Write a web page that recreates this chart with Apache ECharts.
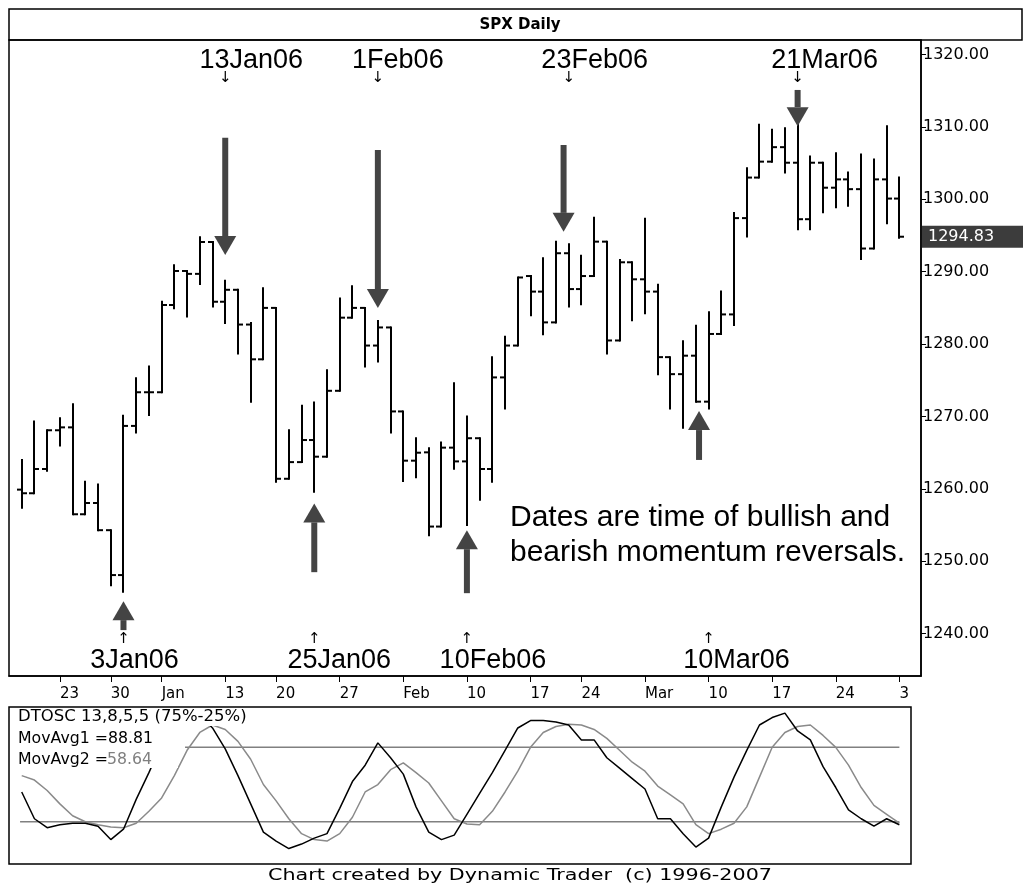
<!DOCTYPE html>
<html><head><meta charset="utf-8">
<script src="https://cdn.jsdelivr.net/npm/echarts@6/dist/echarts.min.js"></script>
<style>html,body{margin:0;padding:0;background:#fff}#c{width:1023px;height:885px}</style>
</head><body><div id="c"></div>
<script>
// ---- data ----
const dates = ['2005-12-20','2005-12-21','2005-12-22','2005-12-23','2005-12-27','2005-12-28','2005-12-29','2005-12-30',
 '2006-01-03','2006-01-04','2006-01-05','2006-01-06','2006-01-09','2006-01-10','2006-01-11','2006-01-12','2006-01-13',
 '2006-01-17','2006-01-18','2006-01-19','2006-01-20','2006-01-23','2006-01-24','2006-01-25','2006-01-26','2006-01-27',
 '2006-01-30','2006-01-31','2006-02-01','2006-02-02','2006-02-03','2006-02-06','2006-02-07','2006-02-08','2006-02-09','2006-02-10',
 '2006-02-13','2006-02-14','2006-02-15','2006-02-16','2006-02-17','2006-02-21','2006-02-22','2006-02-23','2006-02-24',
 '2006-02-27','2006-02-28','2006-03-01','2006-03-02','2006-03-03','2006-03-06','2006-03-07','2006-03-08','2006-03-09','2006-03-10',
 '2006-03-13','2006-03-14','2006-03-15','2006-03-16','2006-03-17','2006-03-20','2006-03-21','2006-03-22','2006-03-23','2006-03-24',
 '2006-03-27','2006-03-28','2006-03-29','2006-03-30','2006-03-31'];
const opens = [1259.9,1259.4,1262.75,1268.1,1268.5,1256.5,1258.05,1254.3,
 1248.1,1268.7,1273.35,1273.35,1285.4,1290.1,1289.7,1294.1,1285.85,
 1287.5,1282.7,1277.9,1285.0,1261.4,1263.7,1266.75,1264.45,1273.55,
 1283.65,1285.0,1279.8,1282.3,1270.7,1263.9,1265.05,1254.8,1265.7,1263.8,
 1267.0,1262.75,1275.4,1279.8,1289.4,1287.25,1283.0,1292.55,1287.6,
 1289.4,1294.15,1280.5,1291.3,1288.95,1287.25,1278.2,1275.85,1278.4,1272.05,
 1281.4,1284.1,1297.4,1303.0,1305.2,1307.2,1305.05,1297.25,1305.05,1301.6,
 1302.75,1301.4,1293.2,1302.75,1300.1];
const highs = [1264.0,1269.3,1268.1,1269.75,1271.7,1261.0,1260.6,1254.3,
 1270.1,1275.3,1276.9,1285.85,1290.9,1290.1,1294.75,1294.1,1288.75,
 1287.5,1282.9,1287.7,1285.0,1268.1,1271.5,1271.95,1276.4,1286.3,
 1288.0,1285.0,1283.2,1282.3,1270.7,1267.0,1265.6,1266.4,1274.6,1270.0,
 1267.0,1278.2,1281.0,1289.2,1289.4,1291.85,1294.15,1293.8,1292.2,
 1297.45,1294.15,1291.6,1291.3,1297.3,1288.2,1278.2,1280.4,1282.55,1284.4,
 1287.25,1298.1,1304.3,1310.3,1309.6,1309.8,1310.3,1305.9,1305.05,1306.35,
 1303.7,1306.2,1305.5,1310.1,1303.0];
const lows = [1257.4,1259.4,1262.5,1266.0,1256.5,1256.5,1254.3,1246.7,
 1245.8,1267.8,1270.2,1273.35,1284.95,1283.8,1288.3,1285.2,1282.9,
 1278.7,1272.05,1277.9,1261.0,1261.4,1263.7,1259.6,1264.45,1273.55,
 1283.65,1276.9,1277.6,1267.8,1261.1,1261.6,1253.6,1254.8,1262.8,1255.0,
 1258.5,1261.0,1271.1,1279.8,1284.0,1281.35,1283.0,1285.2,1285.5,
 1289.4,1278.7,1280.5,1283.3,1284.25,1275.85,1271.1,1268.45,1272.05,1271.1,
 1281.4,1282.65,1294.85,1303.0,1305.2,1303.7,1295.85,1295.85,1298.2,1298.9,
 1299.1,1291.75,1293.2,1296.7,1294.7];
const closes = [1259.4,1262.75,1268.1,1268.5,1256.5,1258.05,1254.3,1248.1,
 1268.7,1273.35,1273.35,1285.4,1290.1,1289.7,1294.1,1285.85,1287.5,
 1282.7,1277.9,1285.0,1261.4,1263.7,1266.75,1264.45,1273.55,1283.65,
 1285.0,1279.8,1282.3,1270.7,1263.9,1265.0,1254.8,1265.7,1263.8,1267.0,
 1262.75,1275.4,1279.8,1289.2,1287.25,1283.0,1292.55,1287.6,1289.4,
 1294.15,1280.5,1291.3,1288.95,1287.25,1278.2,1275.85,1278.4,1272.05,1281.4,
 1284.1,1297.4,1303.0,1305.2,1307.2,1305.05,1297.25,1305.05,1301.6,1302.75,
 1301.4,1293.2,1302.75,1300.1,1294.83];
const dtosc = [45,27,21,23,24,24,22,13,20,40,58,77,90,96,97,88,74,56,37,18,12,7,10,14,17,34,52,63,78,68,
 57,35,18,13,16,30,44,58,73,88,93,93,92,90,80,80,68,61,54,47,27,27,17,8,14,35,55,73,90,95,
 98,86,80,62,48,33,27,22,27,23];
const dtoscAvg = [56,53,46,37,29,25,23,21.5,21,24,32,41,56,73,85,90,87,79,67,50,39,27,17,13,12,17,28,45,50,60,
 64.5,58,51,39,27,23.5,23,32,45,59,75,85,89,90.5,90,87,81,73,65,59,49,43,37,23,17,20,24,35,55,75,
 85,89,90,83,75,63,48,36,30,24];
const oscLevels = [75, 25];
const oscLevelStart = [12.84, -0.13];
const oscLevelEnd = [69, 69];
const priceTicks = [1240,1250,1260,1270,1280,1290,1300,1310,1320];
const xTickIdx = [3,7,11,16,20,25,30,35,40,44,49,54,59,64,69];
const xTickLabels = ['23','30','Jan','13','20','27','Feb','10','17','24','Mar','10','17','24','3'];
const topSignalIdx = [16,28,43,61];
const topSignalText = ['13Jan06','1Feb06','23Feb06','21Mar06'];
const bottomSignalIdx = [8,23,35,54];
const bottomSignalText = ['3Jan06','25Jan06','10Feb06','10Mar06'];
const downArrows = [[16,1308.5,1292.3],[28,1306.8,1285.0],[42.6,1307.5,1295.5],[61,1315.1,1310.1]]; // [index, tail, tip]
const upArrows = [[8,1240.5,1244.5],[23,1248.5,1258.0],[35,1245.6,1254.3],[53.25,1264.0,1270.75]];
const legendTitle = 'DTOSC 13,8,5,5 (75%-25%)';
const legendAvg1 = 'MovAvg1 =88.81';
const legendAvg2Label = 'MovAvg2 =';
const legendAvg2Value = '58.64';
const note = ['Dates are time of bullish and', 'bearish momentum reversals.'];
const footer = 'Chart created by Dynamic Trader  (c) 1996-2007';

// ---- styling offsets for signal labels (pixels) ----
const topLabelDx = [26,20,26,27];
const bottomLabelDx = [11,25,26,28];

const chart = echarts.init(document.getElementById('c'));
const ohlc = dates.map((d,i)=>[i, opens[i], highs[i], lows[i], closes[i]]);
const FONT = 'DejaVu Sans';
const ARROW = '#444444';

function renderBar(params, api){
  const i = api.value(0);
  const x = Math.round(api.coord([i, api.value(1)])[0]);
  const yO = api.coord([i, api.value(1)])[1];
  const yH = api.coord([i, api.value(2)])[1];
  const yL = api.coord([i, api.value(3)])[1];
  const yC = api.coord([i, api.value(4)])[1];
  const st = {stroke:'#000', lineWidth:2};
  return {type:'group', children:[
    {type:'line', shape:{x1:x, y1:yH-1, x2:x, y2:yL+1}, style:st},
    {type:'line', shape:{x1:x-5, y1:yO, x2:x, y2:yO}, style:st},
    {type:'line', shape:{x1:x, y1:yC, x2:x+5, y2:yC}, style:st}
  ]};
}
function renderArrow(params, api){
  const i = api.value(0);
  const pTail = api.coord([i, api.value(1)]);
  const pTip = api.coord([i, api.value(2)]);
  const x = pTail[0];
  const dir = pTip[1] > pTail[1] ? 1 : -1;
  const headLen = 19, headHalf = 11, shaftHalf = 3;
  const yBase = pTip[1] - dir*headLen;
  return {type:'group', children:[
    {type:'polygon', shape:{points:[[x-shaftHalf,pTail[1]],[x+shaftHalf,pTail[1]],[x+shaftHalf,yBase],[x-shaftHalf,yBase]]}, style:{fill:ARROW}},
    {type:'polygon', shape:{points:[[x-headHalf,yBase],[x+headHalf,yBase],[x,pTip[1]]]}, style:{fill:ARROW}}
  ]};
}
function signalRenderer(idxArr, textArr, dxArr, top){
  return function(params, api){
    const k = params.dataIndex;
    const cs = params.coordSys;
    const x = api.coord([idxArr[k], 1280])[0];
    const yText = top ? cs.y + 21 : cs.y + cs.height - 15;
    const yArr = top ? cs.y + 38 : cs.y + cs.height - 37;
    return {type:'group', children:[
      {type:'text', x: x + dxArr[k], y: yText, style:{text:textArr[k], font:'27px "Liberation Sans"', fill:'#000', align:'center', verticalAlign:'middle'}},
      {type:'text', x: x, y: yArr, style:{text: top ? '\u2193' : '\u2191', font:'15px "DejaVu Sans"', fill:'#000', align:'center', verticalAlign:'middle'}}
    ]};
  };
}
const lastClose = closes[closes.length-1];

const option = {
  animation:false,
  backgroundColor:'#fff',
  grid:[
    {left:9, top:40, width:912, height:636, show:true, borderColor:'#000', borderWidth:1.5},
    {left:9, top:707, width:902, height:157, show:true, borderColor:'#000', borderWidth:1.5}
  ],
  xAxis:[
    {gridIndex:0, type:'value', min:-1, max:70.7, splitLine:{show:false},
     axisLine:{show:true, onZero:false, lineStyle:{color:'#000', width:1.5}},
     axisTick:{show:true, customValues:xTickIdx, length:6, lineStyle:{color:'#000', width:1}},
     axisLabel:{show:true, customValues:xTickIdx, formatter:v=>xTickLabels[xTickIdx.indexOf(v)], align:'left',
       margin:11, color:'#000', fontFamily:FONT, fontSize:15}},
    {gridIndex:1, type:'value', min:-1, max:-1 + 902/(912/71.7), show:false, splitLine:{show:false}}
  ],
  yAxis:[
    {gridIndex:0, type:'value', position:'right', min:1234.16, max:1322, splitLine:{show:false},
     axisLine:{show:true, onZero:false, lineStyle:{color:'#000', width:1.5}},
     axisTick:{show:true, customValues:priceTicks, length:5, lineStyle:{color:'#000'}},
     axisLabel:{customValues:priceTicks, formatter:v=>v.toFixed(2), margin:2, color:'#000', fontFamily:FONT, fontSize:16}},
    {gridIndex:1, type:'value', min:-3.4, max:102.1, show:false, splitLine:{show:false}}
  ],
  series:[
    {type:'custom', name:'SPX', xAxisIndex:0, yAxisIndex:0, data:ohlc, encode:{x:0, y:[1,2,3,4]}, renderItem:renderBar, z:5},
    {type:'custom', name:'down', xAxisIndex:0, yAxisIndex:0, data:downArrows, encode:{x:0,y:[1,2]}, renderItem:renderArrow, z:6},
    {type:'custom', name:'up', xAxisIndex:0, yAxisIndex:0, data:upArrows, encode:{x:0,y:[1,2]}, renderItem:renderArrow, z:6},
    {type:'custom', name:'topSig', xAxisIndex:0, yAxisIndex:0, data:topSignalIdx.map(i=>[i,1300]), encode:{x:0,y:1},
     renderItem:signalRenderer(topSignalIdx, topSignalText, topLabelDx, true), z:6},
    {type:'custom', name:'botSig', xAxisIndex:0, yAxisIndex:0, data:bottomSignalIdx.map(i=>[i,1260]), encode:{x:0,y:1},
     renderItem:signalRenderer(bottomSignalIdx, bottomSignalText, bottomLabelDx, false), z:6},
    {type:'custom', name:'last', xAxisIndex:0, yAxisIndex:0, data:[[closes.length-1, lastClose]], encode:{x:0,y:1}, clip:false,
     renderItem:(params, api)=>{
       const cs = params.coordSys;
       const y = api.coord([api.value(0), api.value(1)])[1];
       const x0 = cs.x + cs.width + 1;
       return {type:'group', children:[
         {type:'rect', shape:{x:x0, y:y-11, width:1023-x0, height:22}, style:{fill:'#3c3c3c'}},
         {type:'text', x:x0+6, y:y, style:{text:lastClose.toFixed(2), font:'16px "DejaVu Sans"', fill:'#fff', verticalAlign:'middle'}}
       ]};
     }, z:7},
    {type:'line', name:'75', xAxisIndex:1, yAxisIndex:1, data:[[oscLevelStart[0],oscLevels[0]],[oscLevelEnd[0],oscLevels[0]]], symbol:'none',
     lineStyle:{color:'#808080', width:1.5}, z:2},
    {type:'line', name:'25', xAxisIndex:1, yAxisIndex:1, data:[[oscLevelStart[1],oscLevels[1]],[oscLevelEnd[1],oscLevels[1]]], symbol:'none',
     lineStyle:{color:'#808080', width:1.5}, z:2},
    {type:'line', name:'MovAvg2', xAxisIndex:1, yAxisIndex:1, data:dtoscAvg.map((v,i)=>[i,v]), symbol:'none',
     lineStyle:{color:'#8a8a8a', width:1.5}, z:3},
    {type:'line', name:'MovAvg1', xAxisIndex:1, yAxisIndex:1, data:dtosc.map((v,i)=>[i,v]), symbol:'none',
     lineStyle:{color:'#000', width:1.5}, z:4}
  ],
  graphic:[
    {type:'rect', shape:{x:9, y:9, width:1013, height:31}, style:{fill:'none', stroke:'#000', lineWidth:1.5}, z:10},
    {type:'text', x:520, y:25, style:{text:'SPX Daily', font:'bold 15px "DejaVu Sans"', fill:'#000', align:'center', verticalAlign:'middle'}, z:10},
    {type:'text', x:510, y:518, style:{text:note[0], font:'30px "Liberation Sans"', fill:'#000', verticalAlign:'middle'}, z:10},
    {type:'text', x:510, y:553, style:{text:note[1], font:'30px "Liberation Sans"', fill:'#000', verticalAlign:'middle'}, z:10},
    {type:'rect', shape:{x:10, y:708, width:240, height:18}, style:{fill:'#fff'}, z:50},
    {type:'rect', shape:{x:10, y:726, width:168, height:42}, style:{fill:'#fff'}, z:50},
    {type:'text', x:18, y:717, scaleX:1.1, style:{text:legendTitle, font:'15px "DejaVu Sans"', fill:'#000', verticalAlign:'middle'}, z:51},
    {type:'text', x:18, y:739, scaleX:1.05, style:{text:legendAvg1, font:'15px "DejaVu Sans"', fill:'#000', verticalAlign:'middle'}, z:51},
    {type:'text', x:18, y:760, scaleX:1.05, style:{text:legendAvg2Label, font:'15px "DejaVu Sans"', fill:'#000', verticalAlign:'middle'}, z:51},
    {type:'text', x:107, y:760, scaleX:1.05, style:{text:legendAvg2Value, font:'15px "DejaVu Sans"', fill:'#808080', verticalAlign:'middle'}, z:51},
    {type:'text', x:268, y:876, scaleX:1.38, style:{text:footer, font:'15px "DejaVu Sans"', fill:'#000', align:'left', verticalAlign:'middle'}, z:10}
  ]
};
chart.setOption(option);
</script>
</body></html>
